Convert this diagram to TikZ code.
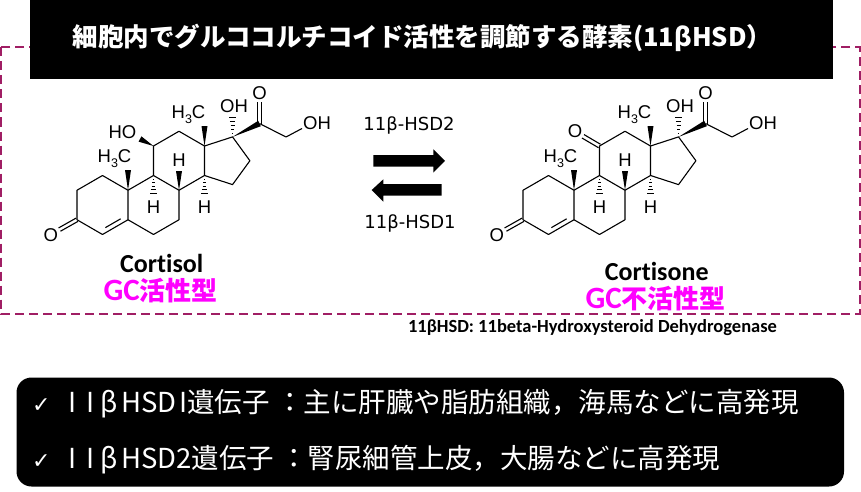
\documentclass[tikz,border=0pt]{standalone}
\usepackage{fontspec}
\setmainfont{Liberation Sans}
\newfontfamily\jpf{Noto Sans CJK JP}
\newfontfamily\calf{Carlito}[Ligatures=CommonOff]
\newfontfamily\dvf{DejaVu Sans}
\usetikzlibrary{calc}
\definecolor{magc}{RGB}{255,0,255}
\definecolor{dashc}{RGB}{160,30,100}
\newcommand\hthree{H\raisebox{-0.28em}{\fontsize{12.5}{12.5}\selectfont 3}C}
% double bond between two coordinates
\newcommand\dbl[3]{%
  \draw[bond] ($(#1)!#3!90:(#2)$) -- ($(#2)!#3!-90:(#1)$);
  \draw[bond] ($(#1)!#3!-90:(#2)$) -- ($(#2)!#3!90:(#1)$);}
% bold wedge, narrow at #1
\newcommand\wdg[2]{\fill ($(#2)!3pt!90:(#1)$) -- (#1) -- ($(#2)!3pt!-90:(#1)$) -- cycle;}
% hashed wedge, vertical: start, direction (+1 down), length
\newcommand\hshv[3]{%
  \foreach \k in {1,...,5} {\draw[line width=0.9pt] ($(#1)+(-0.65*\k,#2*\k*#3/5)$) -- ($(#1)+(0.65*\k,#2*\k*#3/5)$);}}
% common steroid skeleton
\newcommand\skel[1]{%
  \coordinate (#1c1) at (102.5,175.5);
  \coordinate (#1c2) at (77,190.25);
  \coordinate (#1c3) at (77,219.75);
  \coordinate (#1c4) at (102.5,234.5);
  \coordinate (#1c5) at (128,219.75);
  \coordinate (#1c10) at (128,190.25);
  \coordinate (#1c9) at (153.5,175.5);
  \coordinate (#1c8) at (179,190.25);
  \coordinate (#1c7) at (179,219.75);
  \coordinate (#1c6) at (153.5,234.5);
  \coordinate (#1c11) at (153.5,146);
  \coordinate (#1c12) at (179,131.25);
  \coordinate (#1c13) at (204.5,146);
  \coordinate (#1c14) at (204.5,175.5);
  \coordinate (#1c17) at (232.55,136.9);
  \coordinate (#1c16) at (249.9,160.75);
  \coordinate (#1c15) at (232.55,184.6);
  \coordinate (#1c20) at (259.5,123.5);
  \coordinate (#1c21) at (286,137);
  \draw[bond] (#1c1) -- (#1c2) -- (#1c3) -- (#1c4) -- (#1c5) -- (#1c10) -- cycle;
  \draw[bond] (#1c10) -- (#1c9) -- (#1c8) -- (#1c7) -- (#1c6) -- (#1c5);
  \draw[bond] (#1c9) -- (#1c11) -- (#1c12) -- (#1c13) -- (#1c14) -- (#1c8);
  \draw[bond] (#1c13) -- (#1c17) -- (#1c16) -- (#1c15) -- (#1c14);
  \draw[bond] (#1c20) -- (#1c21);
  \draw[bond] ($(#1c4)!0.2!(#1c5)!4.5pt!90:(#1c5)$) -- ($(#1c5)!0.2!(#1c4)!4.5pt!-90:(#1c4)$);
  % 3-keto
  \node[atom] (#1o3) at (50.7,235) {O};
  \coordinate (#1o3e) at (59.5,229.6);
  \dbl{#1c3}{#1o3e}{1.9pt}
  % 20-keto
  \node[atom] (#1o20) at (259.5,93) {O};
  \coordinate (#1o20e) at (259.5,102);
  \dbl{#1c20}{#1o20e}{2.1pt}
  % 21-OH
  \node[atom] (#1o21) at (317,123.5) {OH};
  \coordinate (#1o21e) at (302,128.5);
  \draw[bond] (#1c21) -- (#1o21e);
  % 17-OH (hashed)
  \node[atom] (#1o17) at (234,106) {OH};
  \hshv{#1c17}{-1}{19}
  % C17-C20 bold wedge
  \wdg{#1c17}{#1c20}
  % methyls
  \node[atom] (#1me13) at (188.5,114.5) {\hthree};
  \coordinate (#1m13) at (204.5,126);
  \wdg{#1c13}{#1m13}
  \node[atom] (#1me10) at (114.5,159) {\hthree};
  \coordinate (#1m10) at (128,170);
  \wdg{#1c10}{#1m10}
  % hydrogens
  \node[atom] (#1h9) at (153.5,207) {H};
  \hshv{#1c9}{1}{18}
  \node[atom] (#1h8) at (179,160) {H};
  \coordinate (#1h8e) at (179,171);
  \wdg{#1c8}{#1h8e}
  \node[atom] (#1h14) at (204.5,207) {H};
  \hshv{#1c14}{1}{18}
}
\begin{document}
\begin{tikzpicture}[x=1pt,y=-1pt,
  bond/.style={line width=1.1pt,line join=round},
  atom/.style={font=\fontsize{18.5}{18.5}\selectfont,inner sep=0pt},
  hsdlab/.style={font=\dvf\fontsize{18}{18}\selectfont,inner sep=0pt},
  namelab/.style={font=\calf\bfseries\fontsize{26}{26}\selectfont,inner sep=0pt},
  typelab/.style={font=\jpf\bfseries\fontsize{26}{26}\selectfont,text=magc,inner sep=0pt},
  boxline/.style={anchor=west,inner sep=0pt,text=white,font=\jpf\fontsize{27.5}{27.5}\selectfont},
  ]
\useasboundingbox (0,0) rectangle (861,492);
% dashed frame
\draw[dashc,line width=2pt,dash pattern=on 9pt off 5pt] (1,47.5) rectangle (859.5,313.5);
% title
\fill[black] (30,0) rectangle (833,79);
\node[inner sep=0pt,text=white,font=\jpf\bfseries\fontsize{25.5}{25.5}\selectfont] (title) at (422.5,38) {細胞内でグルココルチコイド活性を調節する酵素(11βHSD）};
% cortisol
\begin{scope}
  \skel{a}
  \node[atom] (aho11) at (122.5,132) {HO};
  \coordinate (ao11e) at (140,139);
  \wdg{ac11}{ao11e}
\end{scope}
% cortisone
\begin{scope}[shift={(446,0)}]
  \skel{b}
  \node[atom] (bo11) at (129,131.5) {O};
  \coordinate (bo11e) at (137,136.3);
  \dbl{bc11}{bo11e}{2pt}
\end{scope}
% names
\node[namelab] (cortisol) at (161.7,263) {Cortisol};
\node[typelab] (gc1) at (160.8,291) {{\calf\bfseries\fontsize{31}{31}\selectfont GC}活性型};
\node[namelab] (cortisone) at (656.7,271.7) {Cortisone};
\node[typelab] (gc2) at (655.8,299) {{\calf\bfseries\fontsize{31}{31}\selectfont GC}不活性型};
% reaction arrows
\node[hsdlab] (hsd2) at (409,125) {11β-HSD2};
\node[hsdlab] (hsd1) at (410,223) {11β-HSD1};
\fill (373.3,155) -- (433.3,155) -- (433.3,149.3) -- (445,160.8) -- (433.3,172.5) -- (433.3,166.7) -- (373.3,166.7) -- cycle;
\fill (441.7,184) -- (383.3,184) -- (383.3,179.3) -- (371.7,190) -- (383.3,201.7) -- (383.3,195.5) -- (441.7,195.5) -- cycle;
% footnote
\node[inner sep=0pt,font=\calf\bfseries\fontsize{18.5}{18.5}\selectfont] (foot) at (592.5,328) {11βHSD: 11beta-Hydroxysteroid Dehydrogenase};
% bottom box
\fill[black,rounded corners=15pt] (16.5,377.5) rectangle (844,486.5);
\node[boxline] (l1) at (32,404) {{\dvf\fontsize{22}{22}\selectfont ✓}\hspace{18pt}I\hspace{10pt}I\hspace{6pt}β\hspace{3pt}HSD\hspace{3pt}I遺伝子 ：主に肝臓や脂肪組織，海馬などに高発現};
\node[boxline] (l2) at (32,460) {{\dvf\fontsize{22}{22}\selectfont ✓}\hspace{18pt}I\hspace{10pt}I\hspace{6pt}β\hspace{3pt}HSD2遺伝子 ：腎尿細管上皮，大腸などに高発現};
\end{tikzpicture}
\end{document}
